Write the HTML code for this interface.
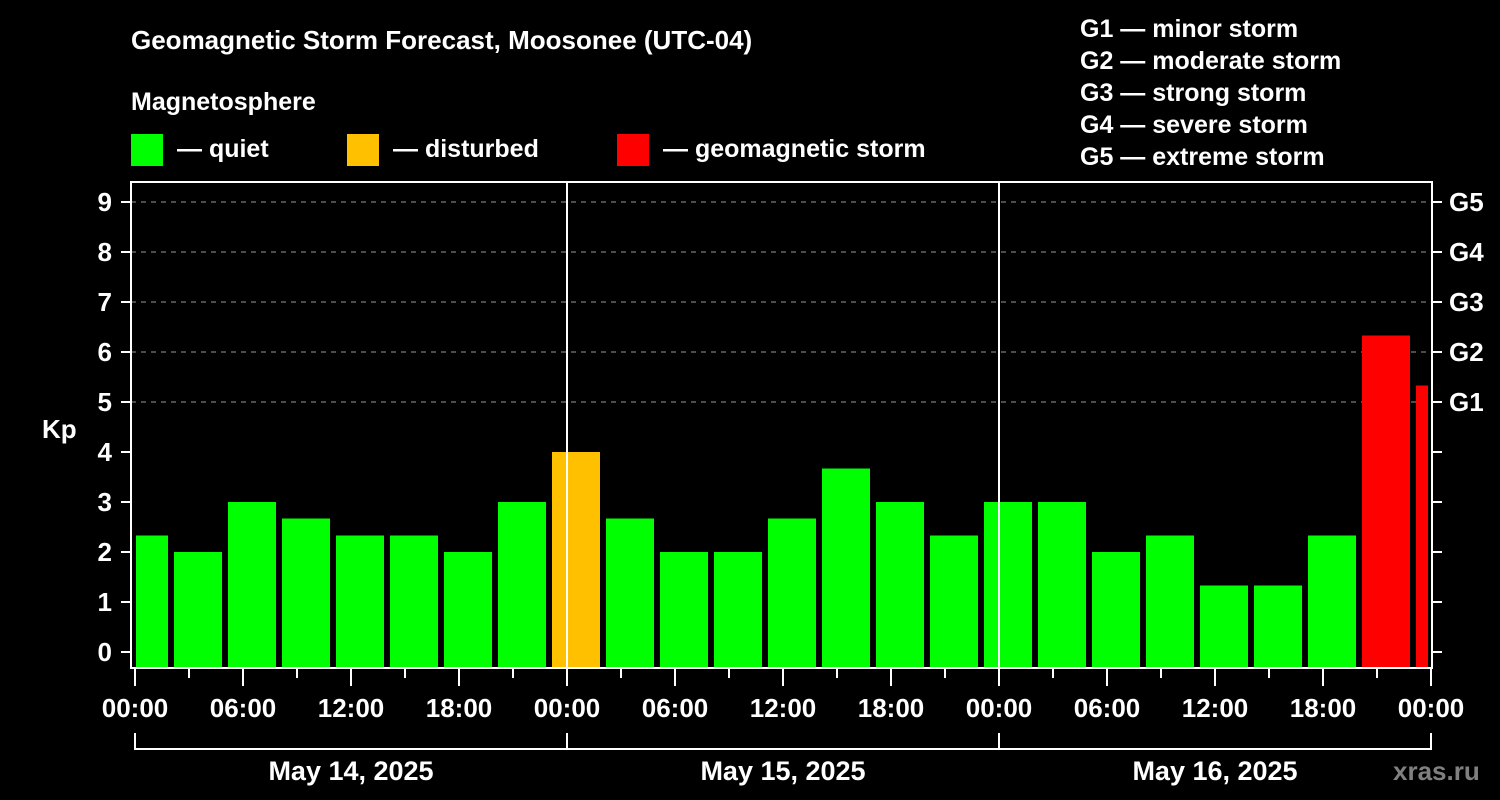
<!DOCTYPE html>
<html><head><meta charset="utf-8"><style>
html,body{margin:0;padding:0;background:#000;}
svg{display:block;font-family:"Liberation Sans",Arial,sans-serif;font-weight:bold;}
</style></head><body>
<svg id="chart" width="1500" height="800" viewBox="0 0 1500 800">
<rect width="1500" height="800" fill="#000"/>
<text x="131" y="49" fill="#fff" font-size="26">Geomagnetic Storm Forecast, Moosonee (UTC-04)</text>
<text x="131" y="110" fill="#fff" font-size="25">Magnetosphere</text>
<g><rect x="131" y="134" width="32" height="32" fill="#00ff00"/><text x="177" y="157" fill="#fff" font-size="25">— quiet</text></g>
<g><rect x="347" y="134" width="32" height="32" fill="#ffc000"/><text x="393" y="157" fill="#fff" font-size="25">— disturbed</text></g>
<g><rect x="617" y="134" width="32" height="32" fill="#ff0000"/><text x="663" y="157" fill="#fff" font-size="25">— geomagnetic storm</text></g>
<g fill="#fff" font-size="25">
<text x="1080" y="37">G1 — minor storm</text>
<text x="1080" y="69">G2 — moderate storm</text>
<text x="1080" y="101">G3 — strong storm</text>
<text x="1080" y="133">G4 — severe storm</text>
<text x="1080" y="165">G5 — extreme storm</text>
</g>
<text x="42" y="438" fill="#fff" font-size="26">Kp</text>
<text x="1393" y="780" fill="#808080" font-size="26">xras.ru</text>
<g id="grid"></g><g id="bars"></g><g id="axes"></g>
</svg>
<script>
const kpValues=[2.33,2,3,2.67,2.33,2.33,2,3,4,2.67,2,2,2.67,3.67,3,2.33,3,3,2,2.33,1.33,1.33,2.33,6.33,5.33];
const barStartHours=[-1,2,5,8,11,14,17,20,23,26,29,32,35,38,41,44,47,50,53,56,59,62,65,68,71];
const yTicks=[0,1,2,3,4,5,6,7,8,9];
const gLabels=["G1","G2","G3","G4","G5"];
const gLevels=[5,6,7,8,9];
const xTickLabels=["00:00","06:00","12:00","18:00","00:00","06:00","12:00","18:00","00:00","06:00","12:00","18:00","00:00"];
const dayLabels=["May 14, 2025","May 15, 2025","May 16, 2025"];
const NS="http://www.w3.org/2000/svg";
const X0=135,PX_H=18,L=131,R=1432,TOP=182,BOT=668;
const y=v=>652-50*v;
const x=h=>X0+h*PX_H;
function mk(tag,attrs,parent,txt){const e=document.createElementNS(NS,tag);for(const k in attrs)e.setAttribute(k,attrs[k]);if(txt!==undefined)e.textContent=txt;parent.appendChild(e);return e;}
const grid=document.getElementById('grid'),bars=document.getElementById('bars'),axes=document.getElementById('axes');
gLevels.forEach(v=>{const l=mk('line',{x1:L,x2:R,y1:y(v),y2:y(v),stroke:'#999','stroke-dasharray':'5,5','stroke-width':1},grid);

});
kpValues.forEach((v,i)=>{
 let a=x(barStartHours[i])+3,b=x(barStartHours[i]+3)-3;
 a=Math.max(a,X0+1);b=Math.min(b,R-4);
 const c=v>=5?'#ff0000':(v>=4?'#ffc000':'#00ff00');
 const r=mk('rect',{x:a,y:y(v),width:b-a,height:BOT-y(v),fill:c},bars);
 
 
});
[0,1,2].forEach(d=>{if(d>0){const l=mk('line',{x1:x(d*24),x2:x(d*24),y1:TOP,y2:BOT,stroke:'#fff','stroke-width':2},axes);

}});
const fr=mk('rect',{x:L,y:TOP,width:R-L,height:BOT-TOP,fill:'none',stroke:'#fff','stroke-width':2},axes);


yTicks.forEach(v=>{
 mk('line',{x1:121,x2:L,y1:y(v),y2:y(v),stroke:'#fff','stroke-width':2},axes);
 mk('line',{x1:R,x2:1442,y1:y(v),y2:y(v),stroke:'#fff','stroke-width':2},axes);
 const t=mk('text',{x:112,y:y(v)+9,fill:'#fff','font-size':26,'text-anchor':'end'},axes,String(v));
 
 
});
gLevels.forEach((v,i)=>{const t=mk('text',{x:1449,y:y(v)+9,fill:'#fff','font-size':26},axes,gLabels[i]);

});
for(let h=0;h<=72;h+=3){const major=h%6===0;mk('line',{x1:x(h),x2:x(h),y1:BOT,y2:major?686:678,stroke:'#fff','stroke-width':2},axes);}
xTickLabels.forEach((s,i)=>{const t=mk('text',{x:x(i*6),y:717,fill:'#fff','font-size':26,'text-anchor':'middle'},axes,s);

});
mk('line',{x1:x(0),x2:x(72),y1:749,y2:749,stroke:'#fff','stroke-width':2},axes);
for(let d=0;d<=3;d++)mk('line',{x1:x(d*24),x2:x(d*24),y1:733,y2:750,stroke:'#fff','stroke-width':2},axes);
dayLabels.forEach((s,i)=>{const t=mk('text',{x:x(i*24+12),y:780,fill:'#fff','font-size':27,'text-anchor':'middle'},axes,s);

});
</script>
</body></html>
